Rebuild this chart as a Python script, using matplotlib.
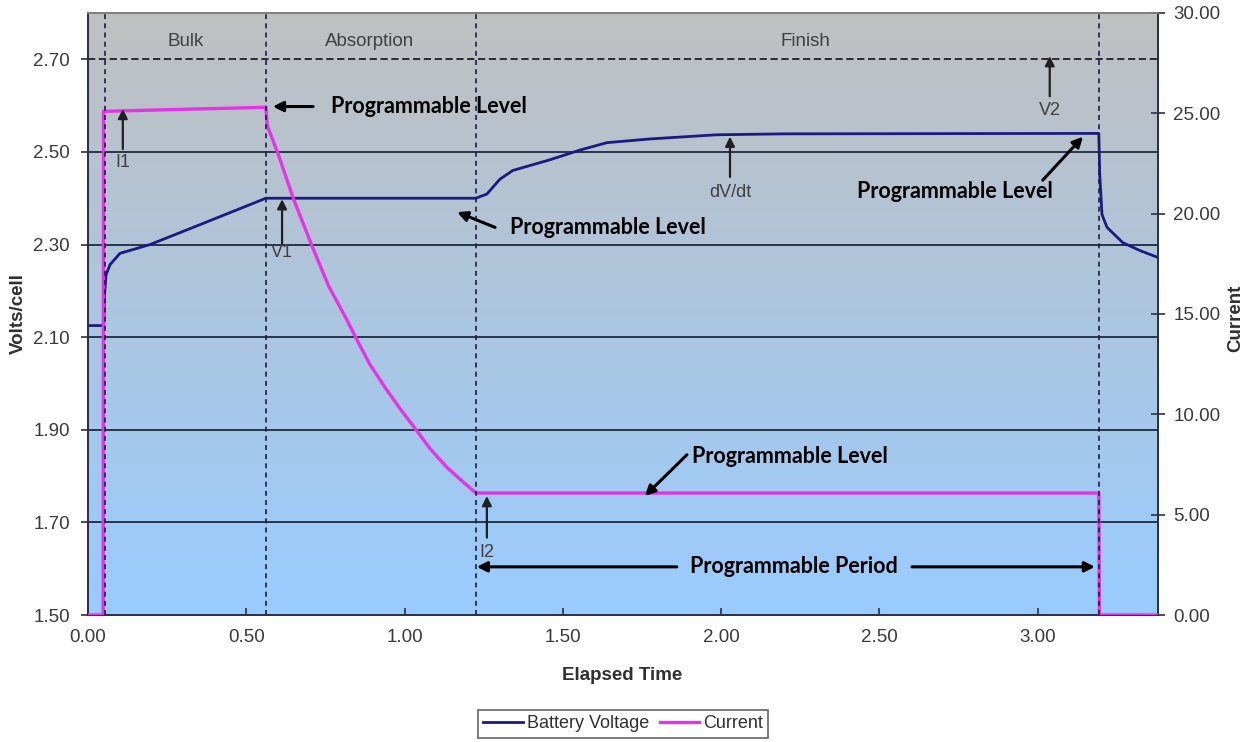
import numpy as np
import matplotlib
matplotlib.use("Agg")
import matplotlib.pyplot as plt
from matplotlib.ticker import FormatStrFormatter

# ---------------- data ----------------
volt_t = [0.00, 0.050, 0.052, 0.057, 0.070, 0.101, 0.196, 0.354, 0.562, 1.225,
          1.260, 1.301, 1.342, 1.459, 1.554, 1.639, 1.775, 1.986, 2.195, 3.193,
          3.196, 3.203, 3.219, 3.269, 3.323, 3.380]
volt_v = [2.125, 2.125, 2.190, 2.235, 2.257, 2.281, 2.300, 2.343, 2.400, 2.400,
          2.409, 2.441, 2.460, 2.483, 2.504, 2.520, 2.528, 2.537, 2.539, 2.540,
          2.450, 2.365, 2.337, 2.304, 2.287, 2.272]

cur_t = [0.00, 0.048, 0.049, 0.30, 0.562, 0.566, 0.60, 0.65, 0.71, 0.76, 0.818,
         0.85, 0.89, 0.94, 0.985, 1.033, 1.08, 1.133, 1.18, 1.225, 3.193, 3.195, 3.38]
cur_i = [0.0, 0.0, 25.1, 25.2, 25.3, 24.4, 23.0, 20.7, 18.3, 16.4, 14.7,
         13.7, 12.5, 11.3, 10.3, 9.3, 8.3, 7.37, 6.7, 6.08, 6.08, 0.0, 0.0]

phase_t = [0.054, 0.562, 1.225, 3.193]
phase_names = ["Bulk", "Absorption", "Finish"]
phase_label_t = [0.31, 0.89, 2.265]

x_ticks = [0.0, 0.5, 1.0, 1.5, 2.0, 2.5, 3.0]
v_ticks = [1.50, 1.70, 1.90, 2.10, 2.30, 2.50, 2.70]
i_ticks = [0, 5, 10, 15, 20, 25, 30]

# ---------------- figure ----------------
W, H = 1253, 742
fig = plt.figure(figsize=(W / 100, H / 100), dpi=100)
L, R, T, B = 88, 1158, 13, 615
ax = fig.add_axes([L / W, 1 - B / H, (R - L) / W, (B - T) / H])
ax2 = ax.twinx()

XMAX = 3.38
ax.set_xlim(0, XMAX)
ax.set_ylim(1.5, 2.8)
ax2.set_ylim(0, 30)

# gradient background
top = np.array([192, 192, 192]) / 255
bot = np.array([153, 204, 255]) / 255
n = 256
frac = np.linspace(0, 1, n)[:, None]
grad = (top[None, :] * (1 - frac) + bot[None, :] * frac)[:, None, :]
ax.imshow(grad, extent=[0, XMAX, 1.5, 2.8], aspect="auto", zorder=0,
          interpolation="bilinear")

# gridlines
gcol = "#1e2a40"
for v in v_ticks[1:-1]:
    ax.axhline(v, color=gcol, lw=1.3, zorder=1)
ax.axhline(2.70, color="#202020", lw=1.3, ls=(0, (4, 2)), zorder=1)

# series
lv, = ax.plot(volt_t, volt_v, color="#1a1a80", lw=2.0, zorder=3,
              label="Battery Voltage")
li, = ax2.plot(cur_t, cur_i, color="#e633e6", lw=2.4, zorder=3, label="Current")

# phase lines (on top)
for t in phase_t:
    ax2.axvline(t, color="#1a2040", lw=1.2, ls=(0, (3, 2.5)), zorder=5)

# ticks / spines
tick_col = "#3a3a3a"
ax.set_xticks(x_ticks)
ax.set_yticks(v_ticks)
ax2.set_yticks(i_ticks)
ax.xaxis.set_major_formatter(FormatStrFormatter("%.2f"))
ax.yaxis.set_major_formatter(FormatStrFormatter("%.2f"))
ax2.yaxis.set_major_formatter(FormatStrFormatter("%.2f"))
ax.tick_params(axis="x", direction="in", length=5, width=1.2, color="#303040",
               pad=10, labelcolor=tick_col)
ax.tick_params(axis="y", direction="out", length=5, width=1.2, color="#303040",
               pad=8, labelcolor=tick_col)
ax2.tick_params(axis="y", direction="inout", length=10, width=1.2, color="#303040",
                pad=6, labelcolor=tick_col)
for a in (ax, ax2):
    for lab in a.get_xticklabels() + a.get_yticklabels():
        lab.set_fontfamily("Liberation Sans")
        lab.set_fontsize(13.5)
for a in (ax, ax2):
    for s in a.spines.values():
        s.set_color("#2a3050")
        s.set_linewidth(1.3)
ax2.spines["top"].set_color("#808080")
ax.spines["top"].set_color("#808080")

# phase names
for name, t in zip(phase_names, phase_label_t):
    ax.text(t, 2.738, name, ha="center", va="center", color="#404040",
            fontsize=13.5, family="Liberation Sans", zorder=6)

# small gray arrows with labels
def up_arrow(x, y0, y1, label, ly):
    ax2.annotate("", xy=(x, y1), xytext=(x, y0), xycoords=ax.transData,
                 textcoords=ax.transData,
                 arrowprops=dict(arrowstyle="-|>", color="#202020", lw=1.6,
                                 mutation_scale=14, shrinkA=0, shrinkB=0),
                 zorder=7)
    ax2.text(x, ly, label, transform=ax.transData, ha="center", va="center",
             color="#404040", fontsize=13, family="Liberation Sans", zorder=7)

up_arrow(0.110, 2.506, 2.593, "I1", 2.478)
up_arrow(0.613, 2.300, 2.398, "V1", 2.283)
up_arrow(2.028, 2.446, 2.533, "dV/dt", 2.413)
up_arrow(3.038, 2.620, 2.707, "V2", 2.590)
up_arrow(1.260, 1.667, 1.757, "I2", 1.635)

# bold black annotations
bfont = dict(family="Lato", weight="bold", size=15.5, color="black")
aprops = dict(arrowstyle="-|>", color="black", lw=2.2, mutation_scale=15,
              shrinkA=0, shrinkB=0)

def bold_arrow(xy, xytext):
    ax2.annotate("", xy=xy, xytext=xytext, xycoords=ax.transData,
                 textcoords=ax.transData, arrowprops=aprops, zorder=8)

bold_arrow((0.584, 2.598), (0.711, 2.598))
ax2.text(0.768, 2.598, "Programmable Level", transform=ax.transData,
         ha="left", va="center", zorder=8, **bfont)

bold_arrow((1.166, 2.370), (1.286, 2.337))
ax2.text(1.333, 2.337, "Programmable Level", transform=ax.transData,
         ha="left", va="center", zorder=8, **bfont)

bold_arrow((3.143, 2.533), (3.016, 2.439))
ax2.text(2.739, 2.415, "Programmable Level", transform=ax.transData,
         ha="center", va="center", zorder=8, **bfont)

bold_arrow((1.759, 1.757), (1.892, 1.846))
ax2.text(1.908, 1.843, "Programmable Level", transform=ax.transData,
         ha="left", va="center", zorder=8, **bfont)

bold_arrow((1.228, 1.604), (1.860, 1.604))
bold_arrow((3.181, 1.604), (2.603, 1.604))
ax2.text(2.230, 1.604, "Programmable Period", transform=ax.transData,
         ha="center", va="center", zorder=8, **bfont)

# axis titles
lab_font = dict(family="Liberation Sans", weight="bold", size=13.5, color="#303030")
fig.text(622 / W, 1 - 675 / H, "Elapsed Time", ha="center", va="center", **lab_font)
fig.text(18 / W, 1 - 314 / H, "Volts/cell", ha="center", va="center",
         rotation=90, **lab_font)
fig.text(1236 / W, 1 - 318 / H, "Current", ha="center", va="center",
         rotation=90, **lab_font)

# legend
leg = fig.legend(handles=[lv, li], loc="center", bbox_to_anchor=(623 / W, 1 - 724 / H),
                 ncol=2, frameon=True, fancybox=False, handlelength=2.2,
                 handletextpad=0.2, columnspacing=0.6, borderpad=0.3,
                 prop=dict(family="Liberation Sans", size=13))
leg.get_frame().set_edgecolor("#404040")
leg.get_frame().set_linewidth(1.2)
for txt in leg.get_texts():
    txt.set_color("#303030")

fig.savefig("out.png", dpi=100, facecolor="white")
